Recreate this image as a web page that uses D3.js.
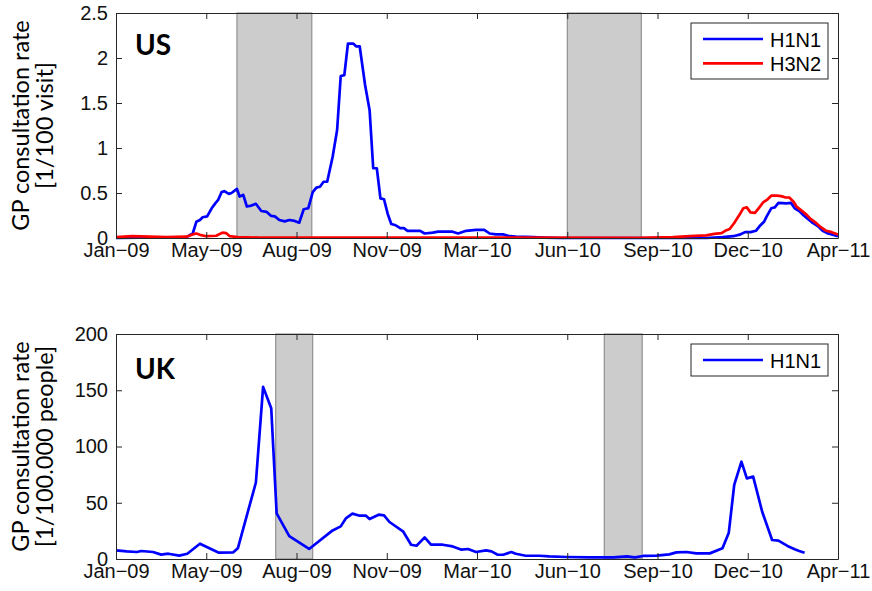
<!DOCTYPE html>
<html>
<head>
<meta charset="utf-8">
<script src="https://cdn.jsdelivr.net/npm/d3@7"></script>
<style>
  html, body { margin: 0; padding: 0; background: #fff; }
  svg { display: block; }
  .tick text { font-family: "Liberation Sans", Arial, sans-serif; font-size: 20px; fill: #111; }
</style>
</head>
<body>
<svg id="chart" width="872" height="591"></svg>
<script>
// ---- Data -------------------------------------------------------------
// US sentinel GP consultation rate (per 100 visits)
const usH1N1Dates = [
  "2009-01-27","2009-04-15","2009-04-22","2009-04-26","2009-04-30","2009-05-03","2009-05-08","2009-05-13",
  "2009-05-17","2009-05-20","2009-05-24","2009-05-27","2009-06-01","2009-06-04","2009-06-10","2009-06-13",
  "2009-06-17","2009-06-21","2009-06-26","2009-07-01","2009-07-07","2009-07-13","2009-07-18","2009-07-22",
  "2009-07-27","2009-08-02","2009-08-07","2009-08-13","2009-08-18","2009-08-23","2009-08-28","2009-09-02",
  "2009-09-06","2009-09-10","2009-09-14","2009-09-18","2009-09-24","2009-09-29","2009-10-03","2009-10-07",
  "2009-10-11","2009-10-17","2009-10-20","2009-10-24","2009-10-30","2009-11-04","2009-11-08","2009-11-12",
  "2009-11-16","2009-11-20","2009-11-24","2009-11-28","2009-12-02","2009-12-08","2009-12-12","2009-12-16",
  "2009-12-30","2010-01-04","2010-01-13","2010-01-19","2010-02-04","2010-02-10","2010-02-19","2010-03-02",
  "2010-03-11","2010-03-17","2010-03-24","2010-04-01","2010-04-08","2010-04-15","2010-05-04","2010-05-15",
  "2010-06-03","2010-11-12","2010-11-30","2010-12-12","2010-12-19","2010-12-25","2010-12-31","2011-01-06",
  "2011-01-10","2011-01-15","2011-01-18","2011-01-23","2011-01-27","2011-01-31","2011-02-09","2011-02-14",
  "2011-02-18","2011-02-23","2011-02-27","2011-03-05","2011-03-10","2011-03-16","2011-03-21","2011-03-27",
  "2011-04-01","2011-04-07"
];
const usH1N1Values = [
  0.0, 0.01, 0.05, 0.18, 0.20, 0.23, 0.24, 0.33,
  0.385, 0.42, 0.51, 0.52, 0.49, 0.50, 0.545, 0.46,
  0.48, 0.35, 0.36, 0.38, 0.30, 0.29, 0.245, 0.24,
  0.20, 0.185, 0.20, 0.19, 0.17, 0.32, 0.33, 0.51,
  0.56, 0.57, 0.625, 0.625, 0.90, 1.20, 1.80, 1.81,
  2.16, 2.16, 2.13, 2.13, 1.70, 1.42, 0.775, 0.775,
  0.44, 0.43, 0.27, 0.155, 0.145, 0.11, 0.11, 0.08,
  0.08, 0.05, 0.06, 0.07, 0.07, 0.05, 0.08, 0.09,
  0.09, 0.05, 0.04, 0.04, 0.02, 0.015, 0.01, 0.005,
  0.0, 0.0, 0.01, 0.02, 0.037, 0.065, 0.065, 0.08,
  0.13, 0.18, 0.24, 0.33, 0.34, 0.39, 0.385, 0.39,
  0.33, 0.30, 0.26, 0.21, 0.167, 0.13, 0.08, 0.05,
  0.037, 0.02
];
const usH3N2Dates = [
  "2009-01-27","2009-02-14","2009-03-05","2009-03-24","2009-04-15","2009-04-22","2009-04-26","2009-04-30",
  "2009-05-07","2009-05-18","2009-05-25","2009-05-29","2009-06-02","2009-06-11","2009-07-05","2010-08-30",
  "2010-10-06","2010-10-25","2010-11-12","2010-11-21","2010-11-29","2010-12-03","2010-12-08","2010-12-13",
  "2010-12-19","2010-12-23","2010-12-27","2010-12-31","2011-01-05","2011-01-09","2011-01-14","2011-01-19",
  "2011-01-23","2011-01-29","2011-02-03","2011-02-08","2011-02-12","2011-02-17","2011-02-20","2011-02-25",
  "2011-03-03","2011-03-08","2011-03-14","2011-03-19","2011-03-25","2011-03-31","2011-04-07"
];
const usH3N2Values = [
  0.01, 0.02, 0.015, 0.01, 0.015, 0.04, 0.05, 0.035,
  0.02, 0.025, 0.06, 0.055, 0.02, 0.01, 0.005, 0.003,
  0.01, 0.02, 0.03, 0.045, 0.055, 0.08, 0.10, 0.167,
  0.26, 0.33, 0.34, 0.285, 0.28, 0.33, 0.395, 0.43,
  0.47, 0.47, 0.465, 0.45, 0.45, 0.40, 0.35, 0.31,
  0.26, 0.21, 0.165, 0.12, 0.08, 0.065, 0.04
];

// UK GP consultation rate (per 100,000 people)
const ukH1N1Dates = [
  "2009-01-27","2009-02-08","2009-02-19","2009-02-24","2009-03-09","2009-03-18","2009-03-26","2009-04-07",
  "2009-04-16","2009-04-30","2009-05-21","2009-06-06","2009-06-11","2009-07-01","2009-07-09","2009-07-18",
  "2009-07-24","2009-08-07","2009-08-29","2009-09-24","2009-10-03","2009-10-09","2009-10-16","2009-10-24",
  "2009-10-31","2009-11-04","2009-11-14","2009-11-20","2009-11-26","2009-12-11","2009-12-20","2009-12-26",
  "2010-01-04","2010-01-11","2010-01-24","2010-02-04","2010-02-14","2010-02-21","2010-03-02","2010-03-13",
  "2010-03-19","2010-03-26","2010-04-01","2010-04-10","2010-04-15","2010-04-26","2010-05-11","2010-05-22",
  "2010-06-10","2010-07-06","2010-08-01","2010-08-16","2010-08-25","2010-09-03","2010-09-18","2010-10-02",
  "2010-10-10","2010-10-21","2010-11-01","2010-11-16","2010-11-30","2010-12-07","2010-12-13","2010-12-21",
  "2010-12-27","2011-01-03","2011-01-13","2011-01-24","2011-01-31","2011-02-10","2011-02-18","2011-02-23",
  "2011-03-01"
];
const ukH1N1Values = [
  7.7, 6.8, 6.2, 7.1, 6.2, 3.9, 4.7, 3.0,
  4.7, 13.6, 5.6, 5.9, 9.5, 68, 153, 134,
  40.6, 20.4, 8.9, 25.4, 29, 36.4, 40.3, 38.5,
  38.5, 35.5, 39.4, 38.8, 32.9, 24.6, 12.7, 11.8,
  19.2, 12.7, 12.7, 11.2, 8.3, 8.9, 6.2, 7.6,
  6.8, 3.8, 3.8, 6.2, 4.7, 2.9, 2.9, 2.3,
  1.8, 1.5, 1.5, 2.4, 1.5, 2.7, 3.0, 4.1,
  5.9, 6.2, 5.0, 5.0, 9.5, 23.4, 65.8, 86.5,
  71.7, 73.2, 42, 16.9, 16.3, 11.6, 8.6, 7.1,
  5.6
];

// School summer holidays (shaded)
const usHolidays = [["2009-06-10", "2009-09-01"], ["2010-06-11", "2010-09-01"]];
const ukHolidays = [["2009-07-23", "2009-09-02"], ["2010-07-22", "2010-09-02"]];

// Axis ranges and ticks
const xDomain = ["2009-01-27", "2011-04-07"];
const xTickDates = ["2009-01-27","2009-05-07","2009-08-15","2009-11-23","2010-03-03",
                    "2010-06-11","2010-09-19","2010-12-28","2011-04-07"];
const usYTicks = [0, 0.5, 1, 1.5, 2, 2.5];
const ukYTicks = [0, 50, 100, 150, 200];

// ---- Drawing ----------------------------------------------------------
const parse = d3.utcParse("%Y-%m-%d");
const fmtMonth = d3.utcFormat("%b-%y");
const tickLabel = d => fmtMonth(d).replace("-", "\u2212");

const svg = d3.select("#chart");
const left = 116, right = 838;
const axisColor = "#262626";

function panel(opts) {
  const { top, bottom, yMax, yTicks, holidays, series, label, ylab, legend } = opts;
  const g = svg.append("g");
  const x = d3.scaleUtc().domain(xDomain.map(parse)).range([left, right]);
  const y = d3.scaleLinear().domain([0, yMax]).range([bottom, top]);

  // shaded holiday periods
  g.selectAll("rect.hol").data(holidays).join("rect")
    .attr("class", "hol")
    .attr("x", d => x(parse(d[0])))
    .attr("y", top)
    .attr("width", d => x(parse(d[1])) - x(parse(d[0])))
    .attr("height", bottom - top)
    .attr("fill", "#cccccc")
    .attr("stroke", "#808080")
    .attr("stroke-width", 1);

  // data lines
  const line = d3.line().x(d => x(d[0])).y(d => y(d[1]));
  series.forEach(s => {
    const pts = s.dates.map((d, i) => [parse(d), s.values[i]]);
    g.append("path")
      .datum(pts)
      .attr("d", line)
      .attr("fill", "none")
      .attr("stroke", s.color)
      .attr("stroke-width", 2.7)
      .attr("stroke-linejoin", "round");
  });

  // axes with inward ticks on all four sides
  const xt = xTickDates.map(parse);
  g.append("g").attr("transform", `translate(0,${bottom})`)
    .call(d3.axisBottom(x).tickValues(xt).tickFormat(tickLabel).tickSizeInner(-6).tickSizeOuter(0).tickPadding(5));
  g.append("g").attr("transform", `translate(0,${top})`)
    .call(d3.axisTop(x).tickValues(xt).tickFormat("").tickSizeInner(-6).tickSizeOuter(0));
  g.append("g").attr("transform", `translate(${left},0)`)
    .call(d3.axisLeft(y).tickValues(yTicks).tickFormat(d3.format("")).tickSizeInner(-6).tickSizeOuter(0).tickPadding(8));
  g.append("g").attr("transform", `translate(${right},0)`)
    .call(d3.axisRight(y).tickValues(yTicks).tickFormat("").tickSizeInner(-6).tickSizeOuter(0));
  g.selectAll(".domain").attr("stroke", axisColor).attr("stroke-width", 1);
  g.selectAll(".tick line").attr("stroke", axisColor);

  // panel label
  g.append("text")
    .attr("x", 135).attr("y", label.y)
    .attr("font-family", "Lato, 'Open Sans', sans-serif")
    .attr("font-weight", 700)
    .attr("font-size", 28)
    .attr("fill", "#000")
    .text(label.text);

  // y-axis title (two lines)
  const yc = (top + bottom) / 2;
  ylab.forEach((t, i) => {
    g.append("text")
      .attr("transform", `translate(${i === 0 ? 28.5 : 52.5},${yc}) rotate(-90)`)
      .attr("text-anchor", "middle")
      .attr("font-family", "Lato, 'Open Sans', sans-serif")
      .attr("font-size", 23.5)
      .attr("fill", "#000")
      .text(t);
  });

  // legend
  const lg = g.append("g");
  const lh = 24 * legend.length + 8;
  lg.append("rect")
    .attr("x", 691).attr("y", top + 10)
    .attr("width", 137).attr("height", lh)
    .attr("fill", "#fff").attr("stroke", axisColor).attr("stroke-width", 1);
  legend.forEach((s, i) => {
    const cy = top + 26 + i * 24.3;
    lg.append("line")
      .attr("x1", 703).attr("x2", 763).attr("y1", cy).attr("y2", cy)
      .attr("stroke", s.color).attr("stroke-width", 2.7);
    lg.append("text")
      .attr("x", 770).attr("y", cy + 7.5)
      .attr("font-family", "'Liberation Sans', Arial, sans-serif")
      .attr("font-size", 20)
      .attr("fill", "#000")
      .text(s.name);
  });
}

const usSeries = [
  { name: "H1N1", color: "#0000ff", dates: usH1N1Dates, values: usH1N1Values },
  { name: "H3N2", color: "#ff0000", dates: usH3N2Dates, values: usH3N2Values }
];
const ukSeries = [
  { name: "H1N1", color: "#0000ff", dates: ukH1N1Dates, values: ukH1N1Values }
];

panel({
  top: 13, bottom: 238, yMax: 2.5, yTicks: usYTicks, holidays: usHolidays,
  series: usSeries, label: { text: "US", y: 55 },
  ylab: ["GP consultation rate", "[1/100 visit]"], legend: usSeries
});
panel({
  top: 334, bottom: 559, yMax: 200, yTicks: ukYTicks, holidays: ukHolidays,
  series: ukSeries, label: { text: "UK", y: 379 },
  ylab: ["GP consultation rate", "[1/100.000 people]"], legend: ukSeries
});
</script>
</body>
</html>
